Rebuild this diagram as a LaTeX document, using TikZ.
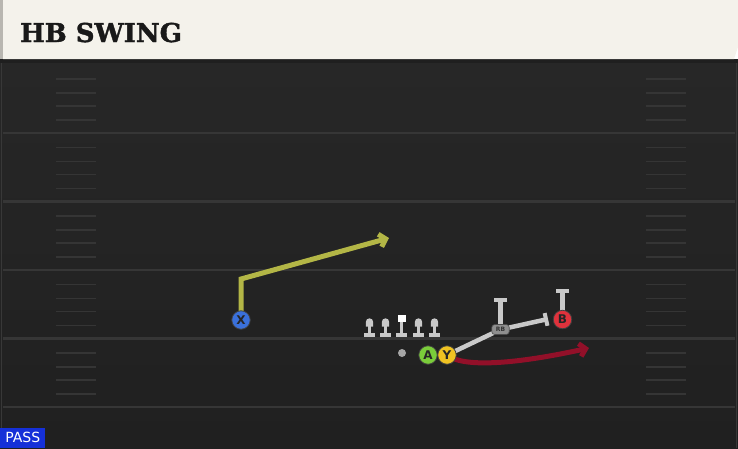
\documentclass[tikz,border=0pt]{standalone}
\usepackage{fontspec}
\setsansfont{DejaVu Sans}
\newfontfamily\titlefont[BoldFeatures={FakeBold=1.5}]{DejaVu Serif}
\usetikzlibrary{arrows.meta}
\definecolor{cream}{HTML}{F4F2EB}
\definecolor{edgegray}{HTML}{B8B6B0}
\definecolor{fieldtop}{HTML}{272727}
\definecolor{fieldbot}{HTML}{202020}
\definecolor{yardgray}{HTML}{363636}
\definecolor{hashgray}{HTML}{353535}
\definecolor{xblue}{HTML}{3A70DA}
\definecolor{agreen}{HTML}{7ACC3A}
\definecolor{yyellow}{HTML}{F0C322}
\definecolor{bred}{HTML}{E0323C}
\definecolor{olive}{HTML}{B3B646}
\definecolor{maroon}{HTML}{921029}
\definecolor{mangray}{HTML}{C9C9C9}
\definecolor{rbgray}{HTML}{8E8E8E}
\definecolor{passblue}{HTML}{1530D8}
\tikzset{
  >={Straight Barb[length=6pt,width=13pt]},
}
\tikzstyle{yardline}=[line width=2.2pt,yardgray]
\tikzstyle{hash}=[line width=1.6pt,hashgray]
\tikzstyle{player}=[circle,draw=black!75,line width=0.8pt,minimum size=18.5pt,inner sep=0pt,font=\sffamily\bfseries\fontsize{12}{12}\selectfont,text=black!85]
\tikzstyle{route}=[line width=5pt,->]
\tikzstyle{block}=[line width=4.5pt,mangray,-{Bar[width=13pt,line width=4pt]}]
\tikzstyle{lineman}=[line width=3.8pt,mangray]

\begin{document}
\begin{tikzpicture}[x=1pt,y=-1pt]
    \useasboundingbox (0,0) rectangle (738,448);
    % field
    \shade[top color=fieldtop,bottom color=fieldbot] (0,59) rectangle (738,448);
    \fill[black!88] (0,59) rectangle (738,63);
    \draw[line width=1.5pt,black!78] (1.5,63) -- (1.5,448) (736.5,63) -- (736.5,448);
    \foreach \y in {133,201.5,270,338.5,407}
      \draw[yardline] (3,\y) -- (735,\y);
    \foreach \y in {64.5,133,201.5,270,338.5}
      \foreach \d in {14.5,28.5,41.5,55.5} {
        \draw[hash] (56,\y+\d) -- (96,\y+\d);
        \draw[hash] (646,\y+\d) -- (686,\y+\d);
      }
    
    % header
    \fill[cream] (3,0) -- (738,0) -- (738,47) -- (734,59) -- (3,59) -- cycle;
    \fill[edgegray] (0,0) rectangle (3,59);
    \node[anchor=base west,inner sep=0pt,font=\titlefont\bfseries\fontsize{26}{26}\selectfont,text=black!90] (title) at (20,42) {HB SWING};
    
    % line
    \foreach \x in {369.5,385.5,418.5,434.5} {
      \draw[lineman] (\x,324) -- (\x,334) (\x-5.5,335) -- (\x+5.5,335);
      \fill[mangray] (\x,322) circle (3.7pt) (\x-3.7,322) rectangle (\x+3.7,326.5);
    }
    \draw[lineman] (401.5,322) -- (401.5,334) (396,335) -- (407,335);
    \fill[white] (397.5,314.5) rectangle (405.5,322);
    \fill[gray!70] (402,353) circle (4pt);
    
    % routes
    \coordinate (xs) at (241,320);
    \coordinate (xcut) at (241,279);
    \coordinate (xtip) at (389,238);
    \coordinate (ys) at (447,355);
    \coordinate (ytip) at (589,348);
    \coordinate (rb) at (500.5,329.5);
    \coordinate (rbend) at (548,319);
    \coordinate (bs) at (562.5,319.5);
    \draw[route,olive] (xs) -- (xcut) -- (xtip);
    \draw[block] (ys) -- (rb) -- (rbend);
    \draw[block] (rb) -- ++(0,-32);
    \draw[block] (bs) -- ++(0,-31);
    \draw[route,maroon] (ys) .. controls (466,370) and (530,361) .. (ytip);
    
    % players
    \node[player,fill=xblue] (X) at (xs) {X};
    \node[player,fill=agreen] (A) at (428,355) {A};
    \node[player,fill=yyellow] (Y) at (ys) {Y};
    \node[player,fill=bred] (B) at (bs) {B};
    \node[fill=rbgray,draw=black!70,line width=0.6pt,rounded corners=3pt,minimum width=17.5pt,minimum height=10pt,inner sep=0pt,font=\sffamily\bfseries\fontsize{6}{6}\selectfont,text=black!80] (RB) at (rb) {RB};
    
    % play type
    \node[fill=passblue,anchor=south west,minimum width=45pt,minimum height=20pt,inner sep=0pt,text=white,font=\sffamily\fontsize{14}{14}\selectfont] (pass) at (0,448) {PASS};
\end{tikzpicture}
\end{document}
